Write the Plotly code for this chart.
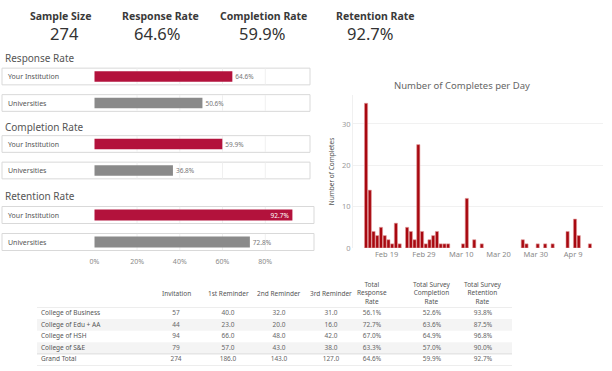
import plotly.graph_objects as go

W, H = 612, 371
def px(x): return x / W
def py(y): return 1 - y / H

# ---------------- data ----------------
kpi_labels = ["Sample Size", "Response Rate", "Completion Rate", "Retention Rate"]
kpi_values = ["274", "64.6%", "59.9%", "92.7%"]

groups = ["Your Institution", "Universities"]
section_titles = ["Response Rate", "Completion Rate", "Retention Rate"]
response_rate = [64.6, 50.6]
completion_rate = [59.9, 36.8]
retention_rate = [92.7, 72.8]
rate_ticks = [0, 20, 40, 60, 80]
rate_ticktext = ["0%", "20%", "40%", "60%", "80%"]

day_dates = ["2024-02-13", "2024-02-14", "2024-02-15", "2024-02-16", "2024-02-17",
             "2024-02-18", "2024-02-19", "2024-02-20", "2024-02-21", "2024-02-22",
             "2024-02-24", "2024-02-25", "2024-02-26", "2024-02-27", "2024-02-28",
             "2024-02-29", "2024-03-01", "2024-03-02", "2024-03-03", "2024-03-04",
             "2024-03-05", "2024-03-06", "2024-03-10", "2024-03-11", "2024-03-13",
             "2024-03-15", "2024-03-26", "2024-03-27", "2024-03-30", "2024-04-01",
             "2024-04-03", "2024-04-07", "2024-04-09", "2024-04-10", "2024-04-13"]
day_completes = [35, 14, 4, 3, 5, 3, 2, 1, 6, 1,
                 5, 4, 2, 25, 4, 1, 2, 3, 4, 1,
                 1, 1, 1, 12, 2, 1, 2, 1, 1, 1,
                 1, 4, 7, 3, 1]

table_header = ["Invitation", "1st Reminder", "2nd Reminder", "3rd Reminder",
                "Total<br>Response<br>Rate", "Total Survey<br>Completion<br>Rate",
                "Total Survey<br>Retention<br>Rate"]
colleges = ["College of Business", "College of Edu + AA", "College of HSH",
            "College of S&E", "Grand Total"]
invitation = ["57", "44", "94", "79", "274"]
reminder1 = ["40.0", "23.0", "66.0", "57.0", "186.0"]
reminder2 = ["32.0", "20.0", "48.0", "43.0", "143.0"]
reminder3 = ["31.0", "16.0", "42.0", "38.0", "127.0"]
tot_response = ["56.1%", "72.7%", "67.0%", "63.3%", "64.6%"]
tot_completion = ["52.6%", "63.6%", "64.9%", "57.0%", "59.9%"]
tot_retention = ["93.8%", "87.5%", "96.8%", "90.0%", "92.7%"]
table_columns = [invitation, reminder1, reminder2, reminder3,
                 tot_response, tot_completion, tot_retention]

# ---------------- style ----------------
FONT = "Noto Sans"
RED = "#B3123C"
GRAY = "#8a8a8a"
DAYRED = "#A80810"

fig = go.Figure()
annotations = []
shapes = []

# KPI header
kpi_lx = [60, 160, 263, 375]
kpi_vx = [64, 157, 262, 370]
for lab, val, lx, vx in zip(kpi_labels, kpi_values, kpi_lx, kpi_vx):
    annotations.append(dict(x=px(lx), y=py(16), xref="paper", yref="paper", text="<b>" + lab + "</b>",
                            showarrow=False, xanchor="center", yanchor="middle",
                            font=dict(family=FONT, size=10.5, color="#3a3a3a")))
    annotations.append(dict(x=px(vx), y=py(33), xref="paper", yref="paper", text=val,
                            showarrow=False, xanchor="center", yanchor="middle",
                            font=dict(family=FONT, size=16.5, color="#333333")))

# left bar sections
sections = [response_rate, completion_rate, retention_rate]
section_dom = [(63.25, 116.25), (130.75, 183.75), (201.5, 255.5)]
title_y = [58, 127, 196]
box_right = [310, 310, 314]
for i, (vals, dom, ty, br) in enumerate(zip(sections, section_dom, title_y, box_right)):
    n = i + 1
    xa = "x" if n == 1 else "x%d" % n
    ya = "y" if n == 1 else "y%d" % n
    last = (i == 2)
    inside = [v > 85 for v in vals]
    fig.add_trace(go.Bar(
        x=vals, y=groups, orientation="h", xaxis=xa, yaxis=ya,
        marker=dict(color=[RED, GRAY], line=dict(width=0)),
        width=0.4,
        text=["%.1f%%" % v for v in vals],
        textposition=["inside" if f else "outside" for f in inside],
        insidetextanchor="end",
        insidetextfont=dict(family=FONT, size=6.5, color="white"),
        outsidetextfont=dict(family=FONT, size=6.5, color="#777777"),
        textangle=0, constraintext="none",
        cliponaxis=False, hoverinfo="skip", showlegend=False))
    fig.layout["xaxis" if n == 1 else "xaxis%d" % n] = dict(
        domain=[px(94.3), px(308)], range=[0, 100], anchor=ya,
        showgrid=False, zeroline=False, showline=False,
        tickvals=rate_ticks, ticktext=rate_ticktext, showticklabels=last, ticks="",
        tickfont=dict(family=FONT, size=7, color="#8a8a8a"))
    fig.layout["yaxis" if n == 1 else "yaxis%d" % n] = dict(
        domain=[py(dom[1]), py(dom[0])], anchor=xa, type="category",
        categoryorder="array", categoryarray=groups[::-1], range=[-0.5, 1.5],
        showticklabels=False, showgrid=False, zeroline=False, showline=False)
    annotations.append(dict(x=px(3), y=py(ty), xref="paper", yref="paper", text=section_titles[i],
                            showarrow=False, xanchor="left", yanchor="middle",
                            font=dict(family=FONT, size=10, color="#555555")))
    for g in groups:
        k = groups[::-1].index(g)
        shapes.append(dict(type="rect", xref="paper", yref=ya, x0=px(2), x1=px(br),
                           y0=k - 0.315, y1=k + 0.315,
                           line=dict(color="#d9d9d9", width=1), fillcolor="white", layer="below"))
        for t in rate_ticks[1:]:
            shapes.append(dict(type="line", xref=xa, yref=ya, x0=t, x1=t,
                               y0=k - 0.3, y1=k + 0.3,
                               line=dict(color="#f0f0f0", width=1), layer="below"))
        annotations.append(dict(x=px(6), y=g, xref="paper", yref=ya, text=g, showarrow=False,
                                xanchor="left", yanchor="middle",
                                font=dict(family=FONT, size=7, color="#555555")))

# daily completes chart
fig.add_trace(go.Bar(
    x=day_dates, y=day_completes, xaxis="x4", yaxis="y4",
    xperiod=86400000, xperiodalignment="middle",
    marker=dict(color=DAYRED, line=dict(color="#e3a0a0", width=0.6)),
    hoverinfo="skip", showlegend=False))
fig.layout.xaxis4 = dict(domain=[px(353), px(603)], anchor="y4", type="date",
                         range=["2024-02-10", "2024-04-17"],
                         tick0="2024-02-19", dtick=864000000, tickformat="%b %-d",
                         showgrid=False, zeroline=False, showline=False, ticks="",
                         tickfont=dict(family=FONT, size=7.5, color="#8a8a8a"))
fig.layout.yaxis4 = dict(domain=[py(248), py(95)], anchor="x4", range=[0, 37],
                         tickvals=[0, 10, 20, 30], showgrid=True, gridcolor="#f1f1f1",
                         zeroline=False, showline=True, linecolor="#f0f0f0",
                         tickfont=dict(family=FONT, size=7.5, color="#9a9a9a"),
                         title=dict(text="Number of Completes", standoff=6,
                                    font=dict(family=FONT, size=6.5, color="#555555")))
annotations.append(dict(x=px(462), y=py(85), xref="paper", yref="paper",
                        text="Number of Completes per Day", showarrow=False,
                        xanchor="center", yanchor="middle",
                        font=dict(family=FONT, size=9.5, color="#666666")))

# table drawn on its own axes: columns on a linear x axis, rows as categories
col_x = [176, 228, 279, 331, 372, 432, 483]
label_x = 41
row_order = colleges[::-1]
fig.layout.xaxis5 = dict(domain=[0, 1], range=[0, W], anchor="y5", visible=False)
fig.layout.yaxis5 = dict(domain=[py(365.5), py(307.5)], anchor="x5", type="category",
                         categoryorder="array", categoryarray=row_order,
                         range=[-0.5, len(colleges) - 0.5], visible=False)
fig.add_trace(go.Scatter(x=[label_x] * len(colleges), y=colleges, mode="text", text=colleges,
                         textposition="middle right", xaxis="x5", yaxis="y5",
                         textfont=dict(family=FONT, size=6.5, color="#555555"),
                         cliponaxis=False, hoverinfo="skip", showlegend=False))
for cx, vals, hd in zip(col_x, table_columns, table_header):
    fig.add_trace(go.Scatter(x=[cx] * len(vals), y=colleges, mode="text", text=vals,
                             textposition="middle center", xaxis="x5", yaxis="y5",
                             textfont=dict(family=FONT, size=6.5, color="#666666"),
                             cliponaxis=False, hoverinfo="skip", showlegend=False))
    annotations.append(dict(x=cx, y=py(293), xref="x5", yref="paper", text=hd, showarrow=False,
                            xanchor="center", yanchor="middle", align="center",
                            font=dict(family=FONT, size=6.5, color="#555555")))
for idx, name in enumerate(colleges[:-1]):
    if idx % 2 == 1:
        k = row_order.index(name)
        shapes.append(dict(type="rect", xref="paper", yref="y5", x0=px(37), x1=px(512),
                           y0=k - 0.5, y1=k + 0.5, line=dict(width=0),
                           fillcolor="#f4f4f4", layer="below"))
for ly in [len(colleges) - 0.5, 0.5, -0.5]:
    shapes.append(dict(type="line", xref="paper", yref="y5", x0=px(37), x1=px(512),
                       y0=ly, y1=ly, line=dict(color="#dcdcdc", width=1)))

fig.update_layout(width=W, height=H, margin=dict(l=0, r=0, t=0, b=0, autoexpand=False),
                  paper_bgcolor="white", plot_bgcolor="rgba(0,0,0,0)",
                  bargap=0.15, annotations=annotations, shapes=shapes,
                  font=dict(family=FONT))
fig.write_html("out.html", config={"displayModeBar": False},
               post_script="document.body.style.margin='0';")
